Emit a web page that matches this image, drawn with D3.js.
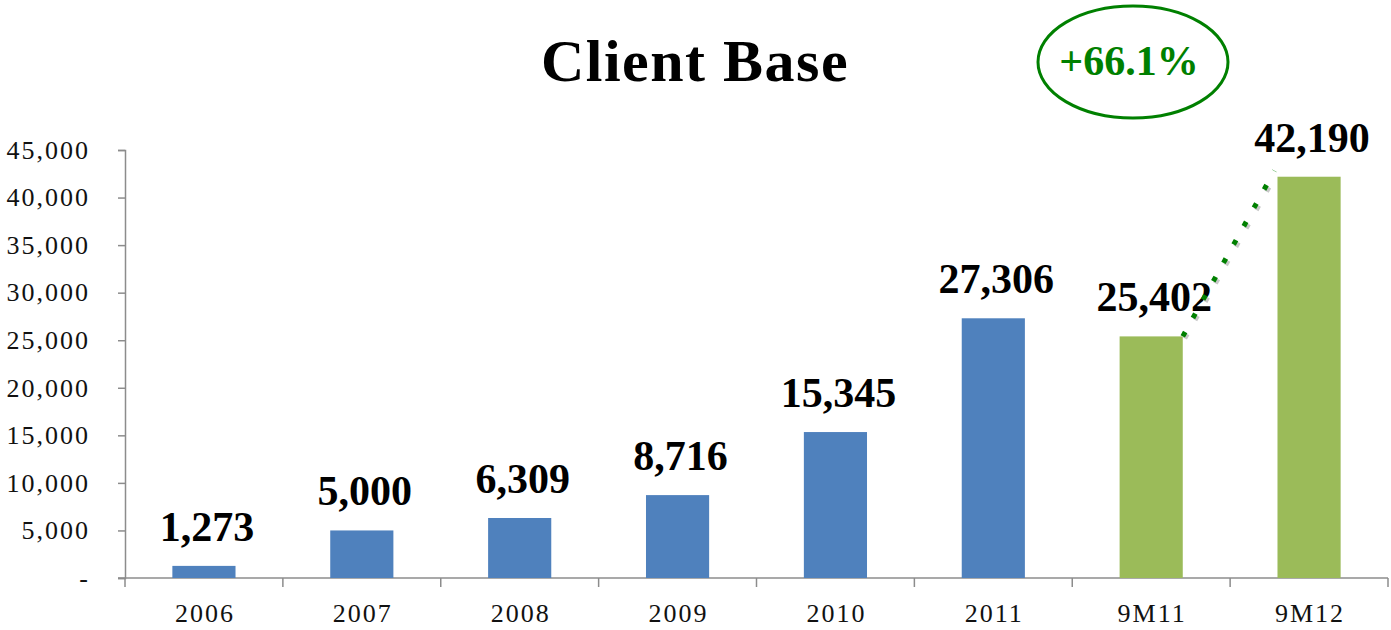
<!DOCTYPE html>
<html><head><meta charset="utf-8">
<script src="https://cdn.jsdelivr.net/npm/d3@7"></script>
<style>body{margin:0;background:#fff}</style>
</head><body>
<svg id="c" width="1391" height="630"></svg>
<script>
const categories = ["2006","2007","2008","2009","2010","2011","9M11","9M12"];
const values = [1273,5000,6309,8716,15345,27306,25402,42190];
const barColors = ["#4F81BD","#4F81BD","#4F81BD","#4F81BD","#4F81BD","#4F81BD","#9BBB59","#9BBB59"];
const yTicks = [0,5000,10000,15000,20000,25000,30000,35000,40000,45000];
const growthLabel = "+66.1%";
const title = "Client Base";

(function(){
const svg = d3.select("#c");
const plotLeft = 125, plotRight = 1388, plotTop = 150, plotBottom = 578;
const x = d3.scaleBand().domain(categories).range([plotLeft, plotRight]).paddingInner(0.6).paddingOuter(0.3);
const y = d3.scaleLinear().domain([0, 45000]).range([plotBottom, plotTop]);
const fmt = d3.format(",");
const serif = "'Liberation Serif','Times New Roman',serif";

// title
svg.append("text").attr("x", 695).attr("y", 81).attr("text-anchor","middle")
  .attr("font-family", serif).attr("font-weight","bold").attr("font-size", 60)
  .attr("letter-spacing", 1.5).attr("fill","#000").text(title);

// y axis
const yAxis = d3.axisLeft(y).tickValues(yTicks).tickSize(7).tickPadding(28)
  .tickFormat(d => d === 0 ? "-" : fmt(d));
const gy = svg.append("g").attr("transform", `translate(${plotLeft},0)`).call(yAxis);
gy.select(".domain").attr("stroke","#8c8c8c").attr("stroke-width",1.5);
gy.selectAll(".tick line").attr("stroke","#8c8c8c").attr("stroke-width",1.5);
gy.selectAll(".tick text").attr("font-family", serif).attr("font-size", 26)
  .attr("letter-spacing", 2).attr("fill","#111");

// x axis baseline and boundary ticks
svg.append("line").attr("x1", plotLeft - 7).attr("x2", plotRight).attr("y1", plotBottom).attr("y2", plotBottom)
  .attr("stroke","#8c8c8c").attr("stroke-width",1.5);
const step = x.step();
const bounds = d3.range(categories.length + 1).map(i => plotLeft + i * step);
svg.selectAll(".xb").data(bounds).enter().append("line")
  .attr("x1", d => d).attr("x2", d => d).attr("y1", plotBottom).attr("y2", plotBottom + 9)
  .attr("stroke","#8c8c8c").attr("stroke-width",1.5);
svg.selectAll(".xl").data(categories).enter().append("text")
  .attr("x", d => x(d) + x.bandwidth()/2 + 1).attr("y", 622).attr("text-anchor","middle")
  .attr("font-family", serif).attr("font-size", 26).attr("letter-spacing", 2)
  .attr("fill","#111").text(d => d);

// bars
svg.selectAll(".bar").data(values).enter().append("rect")
  .attr("x", (d,i) => x(categories[i])).attr("width", x.bandwidth())
  .attr("y", d => y(d)).attr("height", d => plotBottom - y(d))
  .attr("fill", (d,i) => barColors[i]);

// value labels
svg.selectAll(".vl").data(values).enter().append("text")
  .attr("x", (d,i) => x(categories[i]) + x.bandwidth()/2 + 3).attr("y", d => y(d) - 25)
  .attr("text-anchor","middle").attr("font-family", serif).attr("font-weight","bold")
  .attr("font-size", 42).attr("fill","#000").text(d => fmt(d));

// dotted growth line
const x0 = x("9M11") + x.bandwidth(), y0 = y(values[6]);
const x1 = x("9M12"), y1 = y(values[7]);
svg.append("line").attr("x1", x0+2).attr("y1", y0+2).attr("x2", x1-1).attr("y2", y1-3)
  .attr("stroke","#c8c8c8").attr("stroke-width",5).attr("stroke-dasharray","5 16");
svg.append("line").attr("x1", x0).attr("y1", y0).attr("x2", x1-3).attr("y2", y1-6)
  .attr("stroke","#008000").attr("stroke-width",5).attr("stroke-dasharray","5 16");

// ellipse
svg.append("ellipse").attr("cx", 1133).attr("cy", 62).attr("rx", 95).attr("ry", 56)
  .attr("fill","none").attr("stroke","#008000").attr("stroke-width",3);
svg.append("text").attr("x", 1129).attr("y", 75).attr("text-anchor","middle")
  .attr("font-family", serif).attr("font-weight","bold").attr("font-size", 42).attr("fill","#008000").text(growthLabel);
})();
</script>
</body></html>
